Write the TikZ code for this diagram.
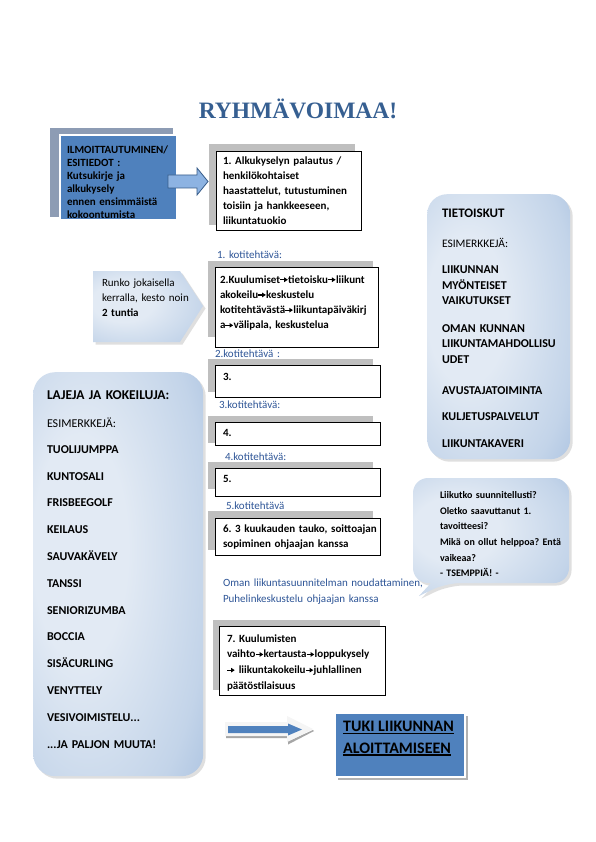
\documentclass[tikz,border=0pt]{standalone}
\usepackage{fontspec}
\setmainfont{Carlito}
\newfontfamily\titlefont{Liberation Serif}
\usetikzlibrary{shadows}
\frenchspacing
\definecolor{boxblue}{HTML}{4F81BD}
\definecolor{ilmoshadow}{HTML}{8D9CB4}
\definecolor{gshadow}{HTML}{BFBFBF}
\definecolor{labelblue}{HTML}{2E5597}
\definecolor{titleblue}{HTML}{365F91}
\definecolor{lightgrad}{HTML}{E2EAF4}
\definecolor{midgrad}{HTML}{C3D4E9}
\definecolor{darkgrad}{HTML}{93B1D8}
\definecolor{arrowfill}{HTML}{8DB3E2}
\definecolor{arrowline}{HTML}{385D8A}
\pgfdeclareradialshading{softblue}{\pgfpoint{-14bp}{4bp}}{%
  color(0bp)=(lightgrad); color(14bp)=(lightgrad); color(34bp)=(midgrad); color(52bp)=(darkgrad); color(70bp)=(darkgrad)}
\newcommand\ra{\tikz[baseline=0pt]{\fill[black] (0.3pt,2.6pt) rectangle (5pt,3.9pt); \fill[black] (4.4pt,0.9pt) -- (8pt,3.25pt) -- (4.4pt,5.6pt) -- cycle;}\kern0.4pt}
\newcommand\thickul[1]{\leavevmode\setbox0\hbox{#1}\rlap{\rule[-2.6pt]{\wd0}{1.4pt}}\box0}
\begin{document}
\begin{tikzpicture}[x=1pt,y=-1pt,
  wbox/.style={draw=black, line width=0.9pt, fill=white, anchor=north west, inner sep=0pt, outer sep=0pt},
  gbox/.style={fill=gshadow, anchor=north west, inner sep=0pt, outer sep=0pt},
  bluebox/.style={fill=boxblue, draw=white, line width=1.8pt, anchor=north west, inner sep=0pt, outer sep=0pt},
  txt/.style={anchor=base west, inner sep=0pt, outer sep=0pt, text width=200pt, align=left},
  boxtxt/.style={txt, font=\fontsize{11}{15.2}\selectfont\bfseries},
  labtxt/.style={txt, text=labelblue, font=\fontsize{11}{15}\selectfont},
  softshadow/.style={drop shadow={shadow xshift=2.5pt, shadow yshift=-2.5pt, opacity=0.25}},
  gradbox/.style={rounded corners=#1, shading=softblue, softshadow}
]
\useasboundingbox (0,0) rectangle (595,842);
\fill[white] (0,0) rectangle (595,842);

% title
\node[anchor=base, inner sep=0pt, text=titleblue, font=\titlefont\bfseries\fontsize{23.5}{28}\selectfont] (title) at (298,119) {RYHMÄVOIMAA!};

% ILMOITTAUTUMINEN box
\node[fill=ilmoshadow, anchor=north west, inner sep=0pt, minimum width=123pt, minimum height=89pt] (ilmosh) at (50,128) {};
\node[bluebox, minimum width=117pt, minimum height=85pt] (ilmo) at (60,135) {};
\node[txt, font=\fontsize{11}{13.1}\selectfont\bfseries] (ilmot) at (67,153.5) {ILMOITTAUTUMINEN/\\ESITIEDOT :\\Kutsukirje ja\\alkukysely\\ennen ensimmäistä\\kokoontumista};

% box 1
\node[gbox, minimum width=146pt, minimum height=81pt] (b1sh) at (209,144) {};
\node[wbox, minimum width=145pt, minimum height=79pt] (b1) at (216,151) {};
\node[boxtxt, font=\fontsize{11}{15}\selectfont\bfseries] (b1t) at (223,165) {1. Alkukyselyn palautus /\\henkilökohtaiset\\haastattelut, tutustuminen\\toisiin ja hankkeeseen,\\liikuntatuokio};

% arrow ilmo -> b1
\draw[fill=arrowfill, draw=arrowline, line width=0.8pt] (168,175) -- (197,175) -- (197,168) -- (208,181.5) -- (197,195) -- (197,188) -- (168,188) -- cycle;

% label 1
\node[labtxt] (lab1) at (217,258.5) {1. kotitehtävä:};

% box 2
\node[gbox, minimum width=165pt, minimum height=76pt] (b2sh) at (208,261) {};
\node[wbox, minimum width=163pt, minimum height=80pt] (b2) at (215,267) {};
\node[boxtxt] (b2t) at (220,283) {2.Kuulumiset\ra tietoisku\ra liikunt\\akokeilu\ra keskustelu\\kotitehtävästä\ra liikuntapäiväkirj\\a\ra välipala, keskustelua};

% Runko pentagon
\path[gradbox=0pt] (93,271) -- (180,271) -- (203,306) -- (180,342) -- (93,342) -- cycle;
\node[txt, font=\fontsize{11}{15}\selectfont] (runko) at (102,286) {Runko jokaisella\\kerralla, kesto noin\\\textbf{2 tuntia}};

% label 2 / box 3
\node[labtxt] (lab2) at (215,357.5) {2.kotitehtävä :};
\node[gbox, minimum width=165pt, minimum height=33pt] (b3sh) at (208,359) {};
\node[wbox, minimum width=165pt, minimum height=32pt] (b3) at (215,365) {};
\node[boxtxt] (b3t) at (223,380) {3.};

% label 3 / box 4
\node[labtxt] (lab3) at (219,408.5) {3.kotitehtävä:};
\node[gbox, minimum width=165pt, minimum height=27pt] (b4sh) at (208,416) {};
\node[wbox, minimum width=165pt, minimum height=23pt] (b4) at (215,422) {};
\node[boxtxt] (b4t) at (223,436.5) {4.};

% label 4 / box 5
\node[labtxt] (lab4) at (225,460) {4.kotitehtävä:};
\node[gbox, minimum width=165pt, minimum height=27pt] (b5sh) at (208,462) {};
\node[wbox, minimum width=165pt, minimum height=28pt] (b5) at (215,468) {};
\node[boxtxt] (b5t) at (223,482.5) {5.};

% label 5 / box 6
\node[labtxt] (lab5) at (226,509) {5.kotitehtävä};
\node[gbox, minimum width=165pt, minimum height=39pt] (b6sh) at (208,511) {};
\node[wbox, minimum width=165pt, minimum height=37pt] (b6) at (215,518) {};
\node[boxtxt, font=\fontsize{11}{15}\selectfont\bfseries] (b6t) at (223,532.3) {6. 3 kuukauden tauko, soittoajan\\sopiminen ohjaajan kanssa};

% Oman text
\node[labtxt, text width=260pt, font=\fontsize{11}{15.3}\selectfont] (oman) at (223,586.7) {Oman liikuntasuunnitelman noudattaminen,\\Puhelinkeskustelu ohjaajan kanssa};

% box 7
\node[gbox, minimum width=167pt, minimum height=70pt] (b7sh) at (213,620) {};
\node[wbox, minimum width=166pt, minimum height=69pt] (b7) at (219,626) {};
\node[boxtxt, font=\fontsize{11}{15.7}\selectfont\bfseries] (b7t) at (227,642) {7. Kuulumisten\\vaihto\ra kertausta\ra loppukysely\\\ra\ liikuntakokeilu\ra juhlallinen\\päätöstilaisuus};

% TIETOISKUT box
\node[gradbox=20pt, anchor=north west, minimum width=143pt, minimum height=265pt, inner sep=0pt] (tieto) at (427,194) {};
\node[txt, font=\fontsize{13}{15}\selectfont\bfseries] (tietoh) at (442,218) {TIETOISKUT};
\node[txt, font=\fontsize{11.5}{15}\selectfont] (tietoe) at (442,247.3) {ESIMERKKEJÄ:};
\node[txt, font=\fontsize{12}{15.8}\selectfont\bfseries] (tieto1) at (442,273.3) {LIIKUNNAN\\MYÖNTEISET\\VAIKUTUKSET};
\node[txt, font=\fontsize{12}{15.4}\selectfont\bfseries] (tieto2) at (442,332.3) {OMAN KUNNAN\\LIIKUNTAMAHDOLLISU\\UDET};
\node[txt, font=\fontsize{12}{15}\selectfont\bfseries] (tieto3) at (442,394) {AVUSTAJATOIMINTA};
\node[txt, font=\fontsize{12}{15}\selectfont\bfseries] (tieto4) at (442,420) {KULJETUSPALVELUT};
\node[txt, font=\fontsize{12}{15}\selectfont\bfseries] (tieto5) at (442,447) {LIIKUNTAKAVERI};

% LAJEJA box
\node[gradbox=22pt, anchor=north west, minimum width=170pt, minimum height=404pt, inner sep=0pt] (lajit) at (33,372) {};
\node[txt, font=\fontsize{13.5}{15}\selectfont\bfseries] (lajih) at (47,399.3) {LAJEJA JA KOKEILUJA:};
\node[txt, font=\fontsize{12}{15}\selectfont] (lajie) at (47,427) {ESIMERKKEJÄ:};
\node[txt, font=\fontsize{12}{26.8}\selectfont\bfseries] (lajil) at (47,453.3) {TUOLIJUMPPA\\KUNTOSALI\\FRISBEEGOLF\\KEILAUS\\SAUVAKÄVELY\\TANSSI\\SENIORIZUMBA\\BOCCIA\\SISÄCURLING\\VENYTTELY\\VESIVOIMISTELU...\\...JA PALJON MUUTA!};

% speech bubble
\path[shading=softblue, softshadow]
  [rounded corners=15pt] (413,530) -- (413,478) -- (569,478) -- (569,583) -- (446,583)
  [sharp corners] -- (419,596) -- (431,583)
  [rounded corners=15pt] -- (413,583) -- cycle;
\node[txt, font=\fontsize{10}{15.6}\selectfont\bfseries] (bubble) at (440,498.7) {Liikutko suunnitellusti?\\Oletko saavuttanut 1.\\tavoitteesi?\\Mikä on ollut helppoa? Entä\\vaikeaa?\\- TSEMPPIÄ! -};

% bottom arrow
\fill[gray!70] (226,738) -- (288,738) -- (288,744.5) -- (314,731) -- (313,730) -- (288,741.5) -- (288,735) -- (226,735) -- cycle;
\fill[gray!8] (225,722) -- (287,722) -- (287,716) -- (313,729) -- (287,742) -- (287,736) -- (225,736) -- cycle;
\fill[boxblue] (228,726) -- (288,726) -- (288,723.5) -- (302,729.5) -- (288,735.5) -- (288,733) -- (228,733) -- cycle;

% TUKI box
\node[fill=gray!60, anchor=north west, inner sep=0pt, minimum width=130pt, minimum height=64pt] (tukish) at (338,716) {};
\node[bluebox, minimum width=130pt, minimum height=64pt] (tuki) at (335,713) {};
\node[anchor=base west, inner sep=0pt, font=\fontsize{16}{19}\selectfont\bfseries] (tukit1) at (343,731.5) {\thickul{TUKI LIIKUNNAN}};
\node[anchor=base west, inner sep=0pt, font=\fontsize{16}{19}\selectfont\bfseries] (tukit2) at (343,753) {\thickul{ALOITTAMISEEN}};
\end{tikzpicture}
\end{document}
